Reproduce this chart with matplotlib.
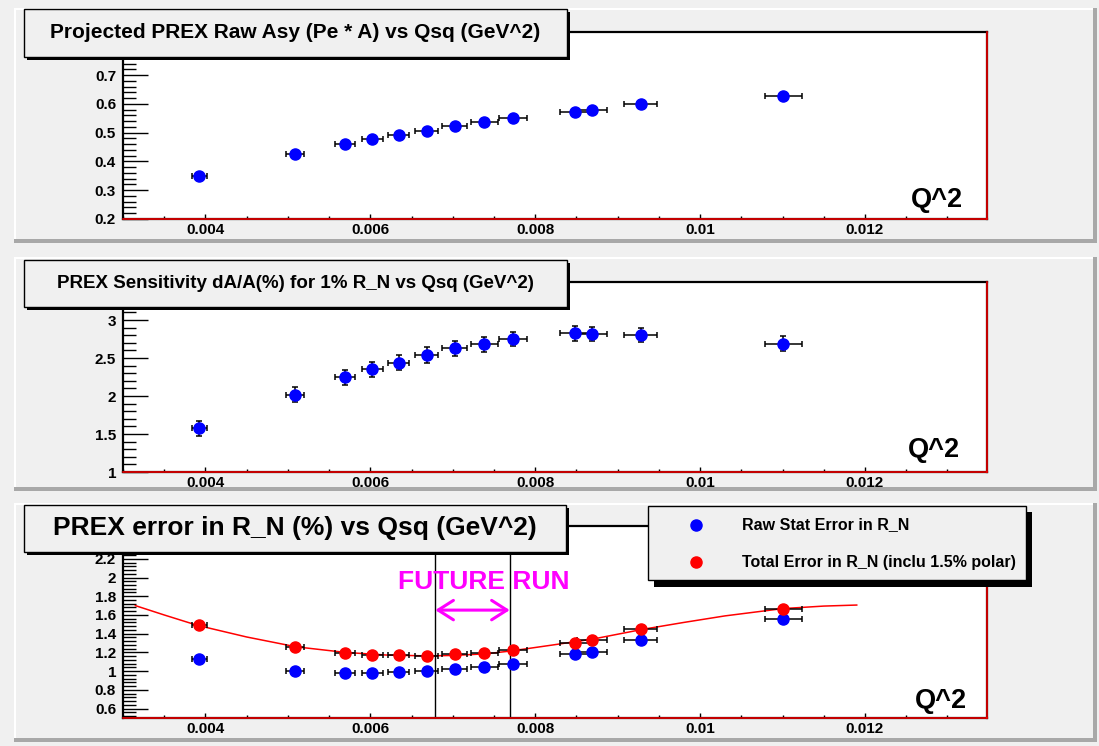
import matplotlib
matplotlib.use('Agg')
import matplotlib.pyplot as plt
from matplotlib.patches import Rectangle
from matplotlib.lines import Line2D
from matplotlib.ticker import MultipleLocator, FixedLocator, FormatStrFormatter

plt.rcParams['font.family'] = ['Liberation Sans', 'DejaVu Sans']
plt.rcParams['font.weight'] = 'bold'

# Q^2 points (GeV^2) and their horizontal errors
qsq = [0.003927, 0.005087, 0.005696, 0.006023, 0.006342, 0.006682, 0.007023,
       0.007384, 0.007733, 0.00848, 0.008692, 0.009279, 0.01101]
qsq_err = [0.00009, 0.00011, 0.00012, 0.00013, 0.00013, 0.00014, 0.00015,
           0.00016, 0.00017, 0.00018, 0.00018, 0.00020, 0.00022]

# panel 1: raw asymmetry
raw_asy = [0.349, 0.425, 0.462, 0.477, 0.492, 0.506, 0.522, 0.536, 0.550,
           0.573, 0.579, 0.600, 0.626]

# panel 2: sensitivity
sens = [1.575, 2.018, 2.248, 2.35, 2.438, 2.54, 2.628, 2.68, 2.748,
        2.823, 2.814, 2.805, 2.69]
sens_err = [0.10, 0.10, 0.10, 0.10, 0.10, 0.10, 0.10, 0.10, 0.095,
            0.095, 0.095, 0.095, 0.095]

# panel 3: error in R_N
rn_stat = [1.128, 1.004, 0.979, 0.979, 0.993, 1.0, 1.025, 1.046, 1.078,
           1.18, 1.21, 1.33, 1.56]
rn_total = [1.492, 1.253, 1.189, 1.171, 1.171, 1.165, 1.18, 1.189, 1.221,
            1.296, 1.33, 1.446, 1.66]

# red fit curve
fit_x = [0.00315, 0.0035, 0.0039, 0.0045, 0.0051, 0.0057, 0.0062, 0.0067,
         0.0070, 0.0074, 0.0077, 0.0082, 0.0087, 0.0093, 0.0098, 0.0103,
         0.0110, 0.0115, 0.0119]
fit_y = [1.70, 1.60, 1.49, 1.365, 1.26, 1.20, 1.172, 1.163, 1.168, 1.185,
         1.215, 1.278, 1.343, 1.446, 1.52, 1.59, 1.668, 1.695, 1.706]

run_lo, run_hi = 0.006788, 0.007691
arrow_y = 1.652

titles = ['Projected PREX Raw Asy (Pe * A) vs Qsq (GeV^2)',
          'PREX Sensitivity dA/A(%) for 1% R_N vs Qsq (GeV^2)',
          'PREX error in R_N (%) vs Qsq (GeV^2)']
legend_labels = ['Raw Stat Error in R_N', 'Total Error in R_N (inclu 1.5% polar)']

# visible major y tick values per panel
yticks1 = [0.2, 0.3, 0.4, 0.5, 0.6, 0.7]
yticks2 = [1, 1.5, 2, 2.5, 3]
yticks3 = [0.6, 0.8, 1.0, 1.2, 1.4, 1.6, 1.8, 2.0, 2.2]

W, H = 1099, 746
XMIN, XMAX = 0.003, 0.01348
PADBG = '#f0f0f0'

fig = plt.figure(figsize=(W / 100, H / 100), dpi=100)
fig.patch.set_facecolor(PADBG)


def fbox(l, t, r, b):
    return [l / W, 1 - b / H, (r - l) / W, (b - t) / H]


def rect(l, t, r, b, **kw):
    kw.setdefault('linewidth', 0)
    p = Rectangle((l / W, 1 - b / H), (r - l) / W, (b - t) / H,
                  transform=fig.transFigure, **kw)
    fig.add_artist(p)


# pads with bevelled borders
for t, b in [(8, 243), (257, 491), (503, 742)]:
    rect(14, t, 1097, b, facecolor=PADBG, zorder=-5)
    rect(14, t, 1097, t + 2, facecolor='white', zorder=-4)
    rect(14, t, 16, b, facecolor='white', zorder=-4)
    rect(14, b - 4, 1097, b, facecolor='#a8a8a8', zorder=-3)
    rect(1093, t, 1097, b, facecolor='#a8a8a8', zorder=-3)


def setup(ax, ylim, majors, minor, qpos):
    ax.set_facecolor('white')
    ax.set_xlim(XMIN, XMAX)
    ax.set_ylim(*ylim)
    ax.xaxis.set_major_locator(MultipleLocator(0.002))
    ax.xaxis.set_minor_locator(MultipleLocator(0.0005))
    ax.yaxis.set_major_locator(FixedLocator(majors))
    ax.yaxis.set_minor_locator(MultipleLocator(minor))
    ax.xaxis.set_major_formatter(FormatStrFormatter('%g'))
    ax.yaxis.set_major_formatter(FormatStrFormatter('%g'))
    ax.tick_params(axis='y', which='major', direction='in', length=18, width=1,
                   labelsize=11, pad=5)
    ax.tick_params(axis='y', which='minor', direction='in', length=9, width=1)
    ax.tick_params(axis='x', which='major', direction='in', length=3.5, width=1,
                   labelsize=11, pad=3)
    ax.tick_params(axis='x', which='minor', direction='in', length=2, width=1)
    for s in ax.spines.values():
        s.set_linewidth(1.6)
    ax.axhline(ylim[0], color='red', lw=1.1, zorder=5, clip_on=False)
    ax.axvline(XMAX, color='red', lw=1.1, zorder=5, clip_on=False)
    ax.text(qpos[0], qpos[1], 'Q^2', transform=ax.transAxes, ha='right',
            va='baseline', fontsize=19.5, fontweight='bold')


ebar = dict(fmt='o', ms=8, ecolor='black', elinewidth=1.1, capsize=2.5,
            capthick=1.1, zorder=3)

# panel 1
ax1 = fig.add_axes(fbox(123, 32, 987, 219))
setup(ax1, (0.2, 0.85), yticks1, 0.02, (0.972, 0.064))
ax1.errorbar(qsq, raw_asy, xerr=qsq_err, color='blue', mec='blue', **ebar)

# panel 2
ax2 = fig.add_axes(fbox(123, 282, 987, 472))
setup(ax2, (1.0, 3.5), yticks2, 0.1, (0.969, 0.079))
ax2.errorbar(qsq, sens, xerr=qsq_err, yerr=sens_err, color='blue', mec='blue', **ebar)

# panel 3
ax3 = fig.add_axes(fbox(123, 526, 987, 718))
setup(ax3, (0.5, 2.55), yticks3, 0.04, (0.977, 0.052))
ax3.plot(fit_x, fit_y, color='red', lw=1.1, zorder=2)
ax3.errorbar(qsq, rn_stat, xerr=qsq_err, color='blue', mec='blue', **ebar)
ax3.errorbar(qsq, rn_total, xerr=qsq_err, color='red', mec='red', **ebar)
ax3.axvline(run_lo, color='black', lw=1)
ax3.axvline(run_hi, color='black', lw=1)
ax3.annotate('', xy=(run_lo, arrow_y), xytext=(run_hi, arrow_y),
             arrowprops=dict(arrowstyle='<->,head_length=1.1,head_width=0.7',
                             color='magenta', lw=2.2, mutation_scale=10,
                             shrinkA=0, shrinkB=0))
ax3.text(0.00737, 1.876, 'FUTURE RUN', color='magenta',
         ha='center', va='baseline', fontsize=19, fontweight='bold')

# title boxes
for (l, t, r, b), txt, fs in zip([(24, 9, 567, 57), (24, 260, 567, 307), (24, 505, 566, 552)],
                                 titles, [15, 13.5, 19]):
    rect(l + 3, t + 3, r + 3, b + 3, facecolor='black', zorder=10)
    rect(l, t, r, b, facecolor=PADBG, edgecolor='black', linewidth=1, zorder=11)
    fig.text((l + r) / 2 / W, 1 - (t + b) / 2 / H, txt, ha='center', va='center',
             fontsize=fs, fontweight='bold', zorder=12)

# legend box
rect(654, 512, 1032, 587, facecolor='black', zorder=10)
rect(648, 506, 1026, 580, facecolor=PADBG, edgecolor='black', linewidth=1, zorder=11)
for y, lab, col in zip([525, 562], legend_labels, ['blue', 'red']):
    fig.add_artist(Line2D([696 / W], [1 - y / H], marker='o', ms=8, color=col,
                          mec=col, linestyle='none', transform=fig.transFigure, zorder=12))
    fig.text(742 / W, 1 - y / H, lab, ha='left', va='center', fontsize=11.5,
             fontweight='bold', zorder=12)

fig.savefig('out.png', dpi=100, facecolor=PADBG)
